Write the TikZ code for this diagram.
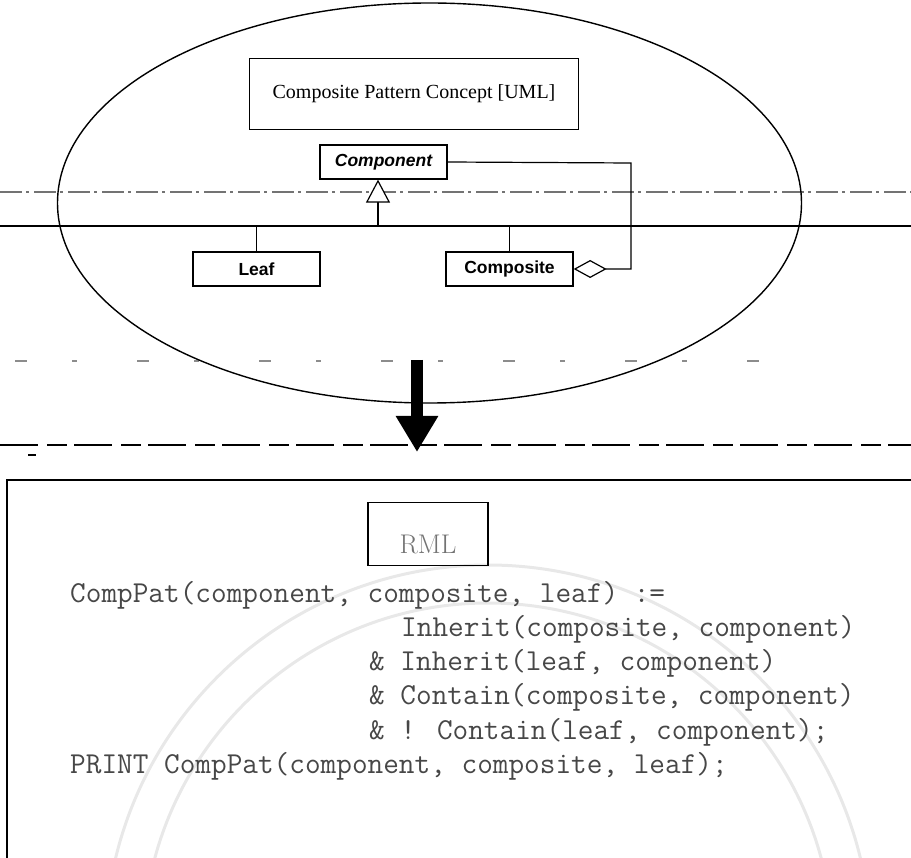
\documentclass[tikz,border=0pt]{standalone}
\usepackage{fontspec}
\setsansfont{Liberation Sans}
\newfontfamily\titlefont{Liberation Serif}
\usetikzlibrary{arrows.meta}

\begin{document}
\begin{tikzpicture}[x=1pt,y=-1pt,
  umlbox/.style={draw, line width=1.3pt, minimum width=127pt, minimum height=34pt,
    inner sep=0pt, font=\sffamily\bfseries\fontsize{17.5}{20}\selectfont},
  codeline/.style={anchor=base west, inner sep=0pt, text=black!72,
    font=\ttfamily\fontsize{30.4}{34}\selectfont},
  scanline/.style={line width=1.2pt},
  wire/.style={line width=1.2pt}
]
\useasboundingbox (0,0) rectangle (911,858);
\clip (0,0) rectangle (911,858);

% faint seal in the background of the lower panel
\draw[black!9, line width=3pt] (488,948) circle[radius=383];
\draw[black!9, line width=3pt] (488,948) circle[radius=345];

% stray horizontal rules
\draw[scanline, black!55, dash pattern=on 22pt off 4pt on 3pt off 5pt] (0,192) -- (911,192);
\draw[line width=1.8pt] (0,226) -- (911,226);
\draw[scanline, black!45, dash pattern=on 12pt off 45pt on 5pt off 60pt] (15,361) -- (800,361);
\draw[scanline, dash pattern=on 38pt off 9pt on 20pt off 7pt] (0,445) -- (911,445);
\draw[scanline] (28,455) -- (36,455);

% UML composite pattern
\draw[line width=1.4pt] (429.5,203) ellipse[x radius=372, y radius=200];

\node[draw, line width=1.3pt, minimum width=329pt, minimum height=71pt,
  font=\titlefont\fontsize{20}{24}\selectfont] (title) at (414,94)
  {Composite Pattern Concept [UML]};

\node[umlbox, font=\sffamily\bfseries\itshape\fontsize{17.5}{20}\selectfont]
  (component) at (383.5,162) {Component};
\node[umlbox] (leaf) at (256.5,269) {Leaf};
\node[umlbox] (composite) at (509.5,269) {Composite};

\coordinate (junction) at (378,226);
\coordinate (aggcorner) at (631,163);

\draw[wire] (leaf.north) |- (junction) -| (composite.north);
\draw[wire, -{Triangle[open, length=23pt, width=24pt, line width=1.2pt, fill=white]}]
  (junction) -- (junction |- component.south);
\draw[wire, -{Diamond[open, length=33pt, width=18pt, line width=1.2pt, fill=white]}]
  (component.east) -- (aggcorner) |- (composite.east);

% transformation arrow
\coordinate (arrowtop) at (417,360);
\coordinate (arrowtip) at (417,452);
\draw[line width=12pt, -{Triangle[length=36pt, width=40pt]}] (arrowtop) -- (arrowtip);

% RML panel
\node[draw, line width=1.8pt, anchor=north west, minimum width=950pt,
  minimum height=450pt, inner sep=0pt] (panel) at (6,479) {};
\node[draw, line width=1.3pt, minimum width=120pt, minimum height=63pt,
  inner sep=0pt] (rmlbox) at (428,534) {};
\node[anchor=base, inner sep=0pt, text=black!55,
  font=\fontsize{27}{30}\selectfont] (rmllabel) at (rmlbox.center |- 0,554) {RML};

\node[codeline] (l1) at (70,602) {CompPat(component, composite, leaf) :=};
\node[codeline] (l2) at (401,636) {Inherit(composite, component)};
\node[codeline] (l3) at (369,670) {\& Inherit(leaf, component)};
\node[codeline] (l4) at (369,704) {\& Contain(composite, component)};
\node[codeline] (l5) at (369,739) {\& ! Contain(leaf, component);};
\node[codeline] (l6) at (70,773) {PRINT CompPat(component, composite, leaf);};
\end{tikzpicture}
\end{document}
